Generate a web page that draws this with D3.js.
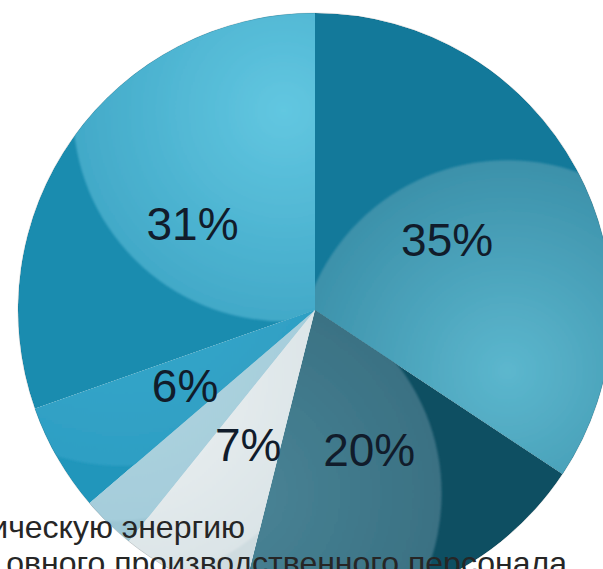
<!DOCTYPE html>
<html>
<head>
<meta charset="utf-8">
<script src="https://cdn.jsdelivr.net/npm/d3@7"></script>
<style>
  html, body { margin: 0; padding: 0; background: #fff; overflow: hidden; }
  svg { display: block; }
</style>
</head>
<body>
<div id="chart"></div>
<script>
// slice values (clockwise from 12 o'clock) and their labels
var values = [35, 20, 7, 3, 6, 31];
var labels = ["35%", "20%", "7%", "", "6%", "31%"];
var legendLines = ["ическую энергию", "овного производственного персонала"];

// shading: outer rim colour, then the lighter inner "bubble"
var outerColors = ["#13799a", "#0e4f62", "#cfdce0", "#9cc5d3", "#2196bb", "#1a8caf"];
var lightHi = ["#5cb7ce", "#4a8597", "#eef2f3", "#b2d6e1", "#3aaacc", "#62c7e1"];
var lightLo = ["#3c91aa", "#3a7183", "#dbe4e7", "#a5cddb", "#2e9fc4", "#42a9c8"];

var w = 603, h = 569;
var cx = 315, cy = 310, R = 297;

var svg = d3.select('#chart').append('svg')
  .attr('width', w).attr('height', h);

svg.append('rect').attr('width', w).attr('height', h).attr('fill', '#fff');

var defs = svg.append('defs');
defs.append('filter').attr('id', 'soft')
  .attr('x', '-10%').attr('y', '-10%').attr('width', '120%').attr('height', '120%')
  .append('feGaussianBlur').attr('stdDeviation', 1.3);

var pie = d3.pie().sort(null).value(function(d) { return d; });
var arcs = pie(values);

var arc = d3.arc().innerRadius(0).outerRadius(R);
var labelArc = d3.arc().innerRadius(150).outerRadius(150);

var g = svg.append('g').attr('transform', 'translate(' + cx + ',' + cy + ')');

arcs.forEach(function(d, i) {
  var mid = (d.startAngle + d.endAngle) / 2;
  var la = mid + 0.8;
  var lx = 0.68 * R * Math.sin(la), ly = -0.68 * R * Math.cos(la);
  var lr = 0.71 * R;

  defs.append('clipPath').attr('id', 'clip' + i)
    .append('path').attr('d', arc(d));

  var grad = defs.append('radialGradient').attr('id', 'lg' + i)
    .attr('gradientUnits', 'userSpaceOnUse')
    .attr('cx', lx).attr('cy', ly).attr('r', lr);
  grad.append('stop').attr('offset', '0%').attr('stop-color', lightHi[i]);
  grad.append('stop').attr('offset', '100%').attr('stop-color', lightLo[i]);

  var sg = g.append('g').attr('clip-path', 'url(#clip' + i + ')');
  sg.append('path').attr('d', arc(d)).attr('fill', outerColors[i]);
  sg.append('circle')
    .attr('cx', lx).attr('cy', ly).attr('r', lr)
    .attr('fill', 'url(#lg' + i + ')')
    .attr('filter', 'url(#soft)');
});

// thin rim
g.append('circle').attr('r', R).attr('fill', 'none')
  .attr('stroke', 'rgba(0,0,0,0.12)').attr('stroke-width', 1);

g.selectAll('text.lbl').data(arcs).enter().append('text')
  .attr('class', 'lbl')
  .attr('transform', function(d) { return 'translate(' + labelArc.centroid(d) + ')'; })
  .attr('text-anchor', 'middle')
  .attr('dy', '0.36em')
  .style('font-family', '"Liberation Sans", Arial, sans-serif')
  .style('font-size', '46px')
  .style('fill', '#111c2b')
  .text(function(d, i) { return labels[i]; });

// legend text, cut off by the picture edges
var legendEnds = [245, 567];
var legendBase = [538, 574];
svg.selectAll('text.leg').data(legendLines).enter().append('text')
  .attr('class', 'leg')
  .attr('x', function(d, i) { return legendEnds[i]; })
  .attr('y', function(d, i) { return legendBase[i]; })
  .attr('text-anchor', 'end')
  .style('font-family', '"Liberation Sans", Arial, sans-serif')
  .style('font-size', '32px')
  .style('fill', '#262626')
  .text(function(d) { return d; });
</script>
</body>
</html>
